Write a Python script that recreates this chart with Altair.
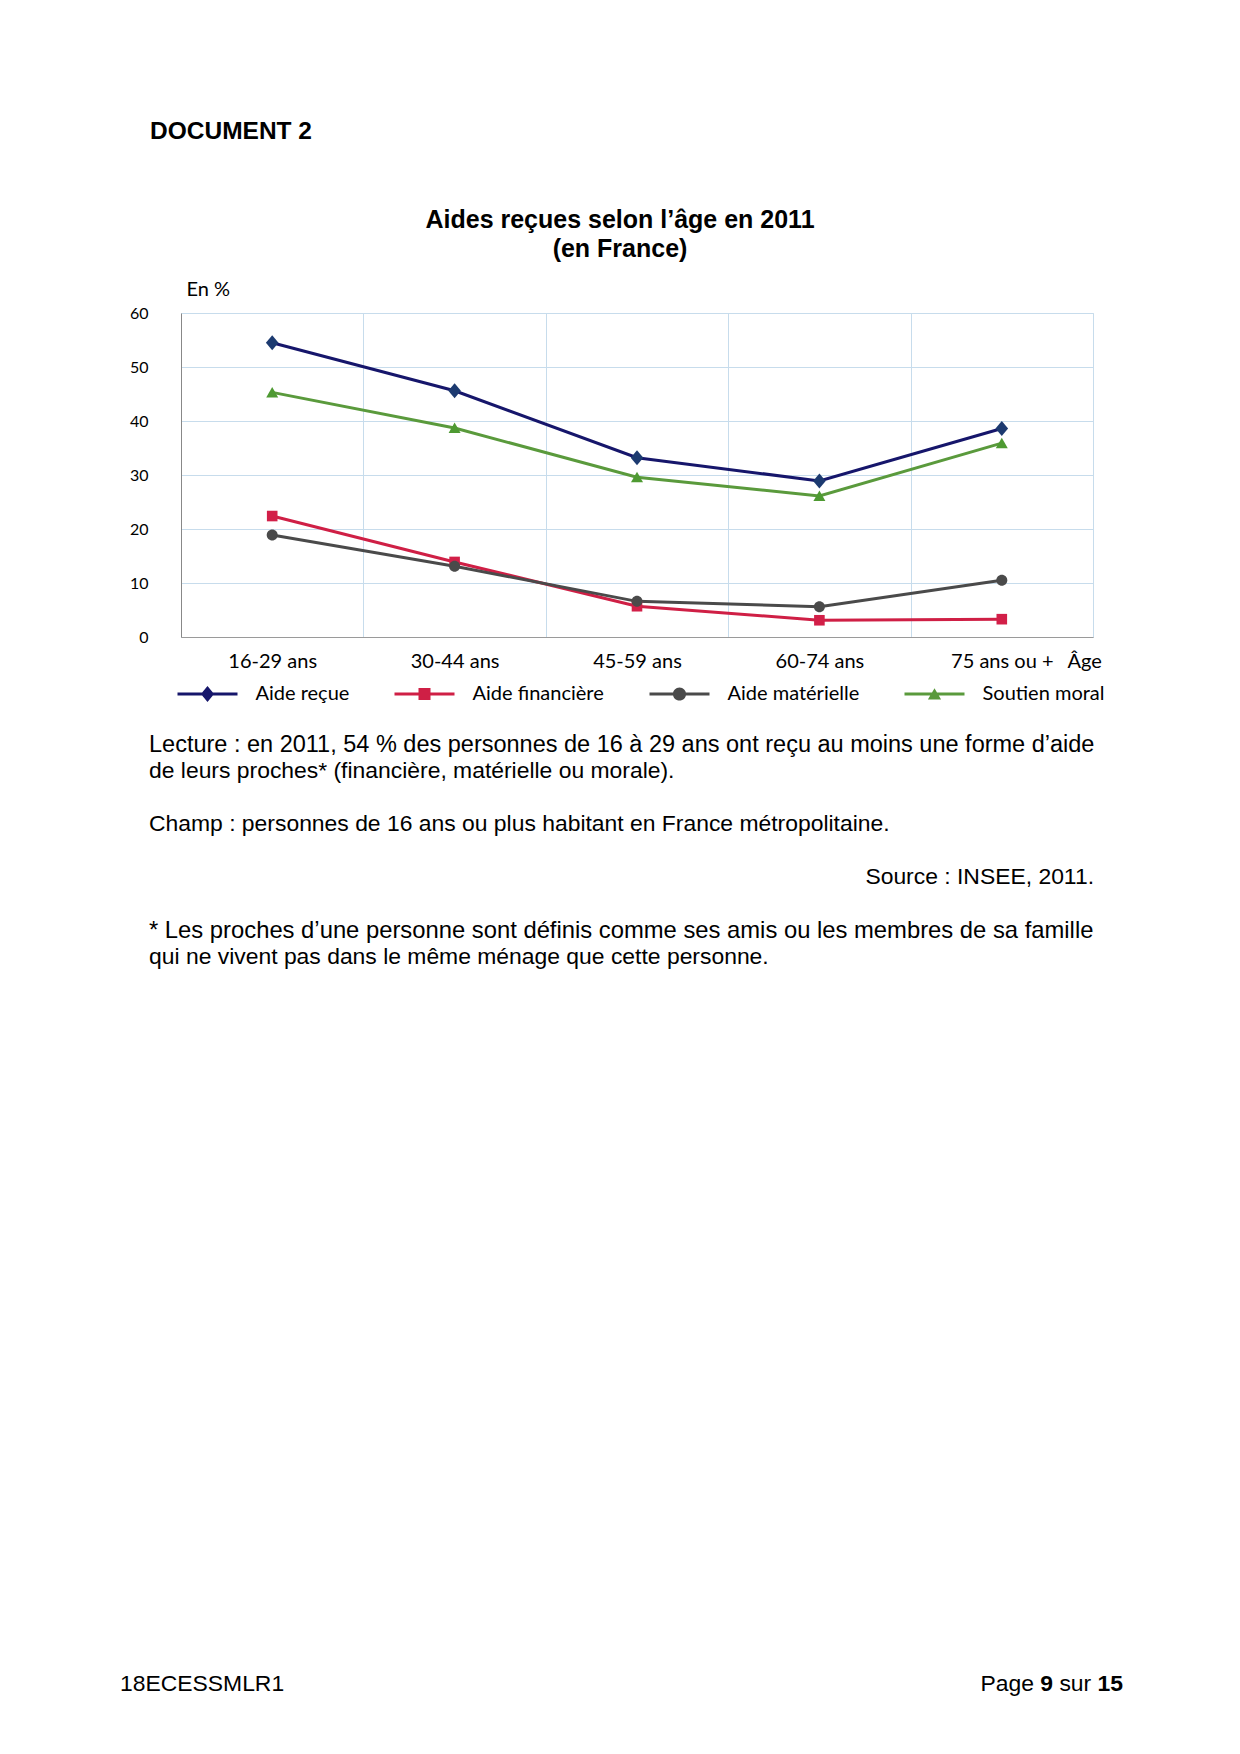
import altair as alt
import pandas as pd

# ---------------- data ----------------
ages = ["16-29 ans", "30-44 ans", "45-59 ans", "60-74 ans", "75 ans ou +"]
series_names = ["Aide reçue", "Aide financière", "Aide matérielle", "Soutien moral"]
aide_recue = [54.5, 45.6, 33.2, 28.9, 38.6]
aide_financiere = [22.4, 13.9, 5.7, 3.1, 3.3]
aide_materielle = [18.9, 13.1, 6.6, 5.6, 10.5]
soutien_moral = [45.3, 38.7, 29.6, 26.1, 35.9]
y_ticks = [0, 10, 20, 30, 40, 50, 60]

line_colors = ["#16166B", "#CF1F45", "#4A4A4A", "#5A9A3C"]
marker_colors = ["#1C3A70", "#D21F48", "#4A4A4A", "#4E9A32"]

# marker shapes (unit square scaled by sqrt(size)/2)
marker_paths = [
    "M0,-0.75L0.63,0L0,0.75L-0.63,0Z",
    "M-0.53,-0.53H0.53V0.53H-0.53Z",
    "M0.55,0A0.55,0.55 0 1,1 -0.55,0A0.55,0.55 0 1,1 0.55,0Z",
    "M0,-0.55L0.6,0.5L-0.6,0.5Z",
]
# legend symbols: line segment + marker
seg = "M-1,-0.05H1V0.05H-1Z"
legend_paths = [
    seg + "M0,-0.27L0.22,0L0,0.27L-0.22,0Z",
    seg + "M-0.2,-0.2H0.2V0.2H-0.2Z",
    seg + "M0.22,0A0.22,0.22 0 1,1 -0.22,0A0.22,0.22 0 1,1 0.22,0Z",
    seg + "M0,-0.19L0.22,0.18L-0.22,0.18Z",
]

doc_label = "DOCUMENT 2"
title_lines = ["Aides reçues selon l’âge en 2011", "(en France)"]
lecture_lines = [
    "Lecture : en 2011, 54 % des personnes de 16 à 29 ans ont reçu au moins une forme d’aide",
    "de leurs proches* (financière, matérielle ou morale).",
]
champ_line = "Champ : personnes de 16 ans ou plus habitant en France métropolitaine."
source_line = "Source : INSEE, 2011."
note_lines = [
    "* Les proches d’une personne sont définis comme ses amis ou les membres de sa famille",
    "qui ne vivent pas dans le même ménage que cette personne.",
]
footer_left = "18ECESSMLR1"
footer_right = ["Page", "9", "sur", "15"]

values = [aide_recue, aide_financiere, aide_materielle, soutien_moral]
rows = []
for name, vals in zip(series_names, values):
    for a, v in zip(ages, vals):
        rows.append({"age": a, "serie": name, "valeur": v})
df = pd.DataFrame(rows)

GRID = "#C7DCEC"
CHART_FONT = "Lato"
DOC_FONT = "Liberation Sans"

x_enc = alt.X(
    "age:N",
    sort=ages,
    scale=alt.Scale(type="band", domain=ages, paddingInner=0, paddingOuter=0),
    axis=alt.Axis(
        title="Âge", titleX=886, titleY=24, titleAlign="left", titleBaseline="middle",
        titleFont=CHART_FONT, titleFontSize=20, titleFontWeight="normal", titleColor="black",
        labelAngle=0, labelFont=CHART_FONT, labelFontSize=20, labelColor="black",
        labelBaseline="middle", labelPadding=24, ticks=False, tickSize=0,
        domainColor="#9A9A9A", grid=True, gridColor=GRID, tickBand="extent",
    ),
)
y_enc = alt.Y(
    "valeur:Q",
    scale=alt.Scale(domain=[0, 60], nice=False),
    axis=alt.Axis(
        values=y_ticks, title="En %", titleAngle=0, titleX=5, titleY=-24,
        titleAlign="left", titleBaseline="middle", titleFont=CHART_FONT,
        titleFontSize=20, titleFontWeight="normal", titleColor="black",
        labelFont=CHART_FONT, labelFontSize=16, labelColor="black", labelPadding=33,
        ticks=False, tickSize=0, domainColor="#888888", gridColor=GRID,
    ),
)

base = alt.Chart(df)

lines = base.mark_line(strokeWidth=3).encode(
    x=x_enc, y=y_enc,
    color=alt.Color("serie:N", scale=alt.Scale(domain=series_names, range=line_colors), legend=None),
)

points = base.mark_point(filled=True, opacity=1, size=400).encode(
    x=x_enc, y=y_enc,
    color=alt.Color("serie:N", scale=alt.Scale(domain=series_names, range=marker_colors), legend=None),
    shape=alt.Shape("serie:N", scale=alt.Scale(domain=series_names, range=marker_paths), legend=None),
)

leg = dict(
    orient="none", legendX=-3.5, legendY=351, direction="horizontal", columns=4,
    title=None, symbolSize=3600, labelFont=CHART_FONT, labelFontSize=20,
    labelColor="black", labelOffset=18, columnPadding=45, padding=0,
    symbolStrokeWidth=0,
)
legend_layer = base.mark_point(filled=True, opacity=1, size=3600).encode(
    color=alt.Color("serie:N", scale=alt.Scale(domain=series_names, range=line_colors), legend=alt.Legend(**leg)),
    shape=alt.Shape("serie:N", scale=alt.Scale(domain=series_names, range=legend_paths), legend=alt.Legend(**leg)),
).transform_filter("false")


def txt(s, x, y, size=22.9, weight="normal", align="left"):
    return alt.Chart(alt.InlineData(values=[{"t": s}])).mark_text(
        align=align, baseline="middle", font=DOC_FONT, fontSize=size,
        fontWeight=weight, color="black",
    ).encode(text="t:N", x=alt.value(x), y=alt.value(y))


texts = [
    txt(doc_label, -31, -181, size=24.5, weight="bold"),
    txt(title_lines[0], 439, -93.5, size=25, weight="bold", align="center"),
    txt(title_lines[1], 439, -64.4, size=25, weight="bold", align="center"),
    txt(lecture_lines[0], -32, 432, size=23.5),
    txt(lecture_lines[1], -32, 458),
    txt(champ_line, -32, 511),
    txt(source_line, 913, 564, align="right"),
    txt(note_lines[0], -32, 618, size=23.8),
    txt(note_lines[1], -32, 644),
    txt(footer_left, -61, 1371),
    txt(footer_right[0], 799.5, 1371),
    txt(footer_right[1], 859.3, 1371, weight="bold"),
    txt(footer_right[2], 878.4, 1371),
    txt(footer_right[3], 916.5, 1371, weight="bold"),
]

chart = alt.layer(lines, points, legend_layer, *texts).resolve_scale(
    color="independent", shape="independent"
).properties(
    width=912,
    height=324,
    autosize=alt.AutoSizeParams(type="none"),
    padding={"left": 173, "top": 305, "right": 139, "bottom": 1109},
).configure_view(stroke=GRID, fill="white").configure(background="white")

chart.save("out.html", embed_options={"renderer": "svg", "actions": False})
